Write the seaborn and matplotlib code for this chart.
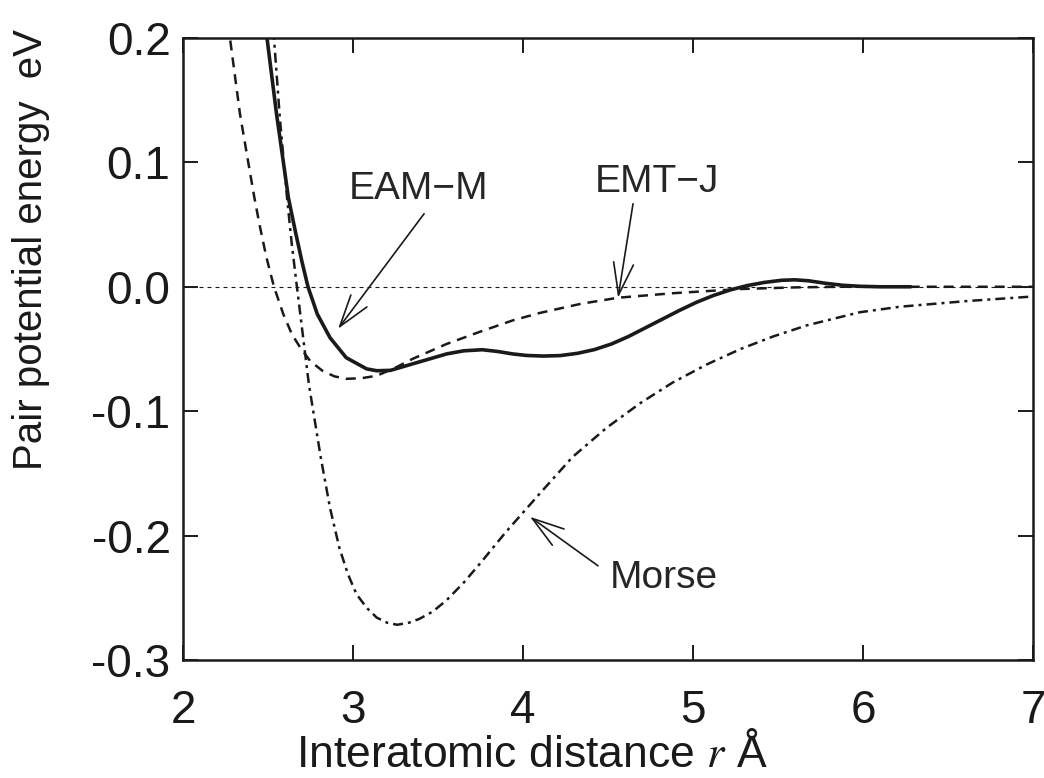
import matplotlib
matplotlib.use("Agg")
import matplotlib.pyplot as plt
import seaborn as sns
import pandas as pd

# values
eam_r = [2.47, 2.494, 2.55, 2.62, 2.66, 2.70, 2.735, 2.79, 2.865, 2.96, 3.08, 3.14, 3.22,
         3.35, 3.45, 3.55, 3.65, 3.76, 3.85, 3.94, 4.02, 4.12, 4.22, 4.32, 4.42, 4.52,
         4.62, 4.72, 4.82, 4.92, 5.02, 5.12, 5.22, 5.32, 5.42, 5.52, 5.60, 5.68, 5.78,
         5.88, 5.98, 6.1, 6.28]
eam_e = [0.225, 0.2, 0.139, 0.0715, 0.045, 0.020, 0.0, -0.022, -0.041, -0.057, -0.066,
         -0.0675, -0.0672, -0.062, -0.058, -0.054, -0.0515, -0.0506, -0.052, -0.054,
         -0.0552, -0.0557, -0.0553, -0.0535, -0.0505, -0.046, -0.040, -0.033, -0.026,
         -0.019, -0.0125, -0.007, -0.0025, 0.001, 0.0035, 0.0052, 0.0056, 0.0048, 0.0028,
         0.0012, 0.0004, 0.0, 0.0]

emt_r = [2.25, 2.276, 2.335, 2.38, 2.42, 2.45, 2.49, 2.535, 2.59, 2.64, 2.69, 2.75, 2.82,
         2.89, 2.96, 3.05, 3.14, 3.25, 3.35, 3.55, 3.75, 3.94, 4.10, 4.34, 4.56, 4.88,
         5.28, 5.60, 5.86, 6.5, 7.0]
emt_e = [0.225, 0.2, 0.139, 0.103, 0.0715, 0.05, 0.024, 0.0, -0.022, -0.038, -0.049,
         -0.060, -0.0675, -0.072, -0.074, -0.0735, -0.0715, -0.065, -0.058, -0.046,
         -0.036, -0.027, -0.021, -0.0137, -0.0088, -0.0052, -0.0018, -0.0005, 0.0, 0.0,
         0.0]

morse_r = [2.52, 2.535, 2.57, 2.612, 2.64, 2.67, 2.74, 2.81, 2.865, 2.92, 2.97, 3.02, 3.08,
           3.14, 3.20, 3.26, 3.33, 3.39, 3.47, 3.55, 3.65, 3.75, 3.90, 4.10, 4.29, 4.49,
           4.69, 4.88, 5.08, 5.28, 5.47, 5.67, 5.98, 6.22, 6.61, 6.98]
morse_e = [0.225, 0.2, 0.135, 0.0715, 0.034, 0.0, -0.078, -0.137, -0.178, -0.210, -0.231,
           -0.247, -0.258, -0.266, -0.270, -0.2717, -0.270, -0.267, -0.261, -0.252, -0.238,
           -0.222, -0.197, -0.166, -0.137, -0.1135, -0.0935, -0.077, -0.0625, -0.050,
           -0.040, -0.031, -0.0205, -0.016, -0.0115, -0.008]

x_ticks = [2, 3, 4, 5, 6, 7]
y_ticks = [-0.3, -0.2, -0.1, 0.0, 0.1, 0.2]
y_tick_labels = ["-0.3", "-0.2", "-0.1", "0.0", "0.1", "0.2"]

sns.set_theme(style="ticks")
plt.rcParams['font.family'] = ['Liberation Sans', 'DejaVu Sans']
plt.rcParams['mathtext.fontset'] = 'stix'
plt.rcParams['axes.unicode_minus'] = False

fig = plt.figure(figsize=(10.44, 7.78), dpi=100)
ax = fig.add_axes([0.1753, 0.1517, 0.8142, 0.7995])

ax.axhline(0, color='k', lw=0.8, linestyle=(0, (3.6, 3.6)))

df_eam = pd.DataFrame({"r": eam_r, "E": eam_e})
df_emt = pd.DataFrame({"r": emt_r, "E": emt_e})
df_morse = pd.DataFrame({"r": morse_r, "E": morse_e})

sns.lineplot(data=df_eam, x="r", y="E", ax=ax, color='k', lw=2.6)
sns.lineplot(data=df_emt, x="r", y="E", ax=ax, color='k', lw=1.8,
             linestyle=(0, (4, 2.8)))
sns.lineplot(data=df_morse, x="r", y="E", ax=ax, color='k', lw=1.8,
             linestyle=(0, (4, 2, 1.2, 2)))

ax.set_xlim(2, 7)
ax.set_ylim(-0.3, 0.2)
ax.set_xticks(x_ticks)
ax.set_yticks(y_ticks)
ax.set_yticklabels(y_tick_labels)

ax.tick_params(direction='in', length=11, width=1.4, top=True, right=True,
               labelsize=33, colors='k')
ax.tick_params(axis='x', pad=21)
ax.tick_params(axis='y', pad=9)
for s in ax.spines.values():
    s.set_linewidth(1.8)
    s.set_color('k')

ax.set_xlabel(r'Interatomic distance $r$ Å', fontsize=32, color='k')
ax.set_ylabel('Pair potential energy  eV', fontsize=29, color='k')
ax.xaxis.set_label_coords(0.41, -0.117)
ax.yaxis.set_label_coords(-0.156, 0.66)

arrow = dict(arrowstyle='->,head_length=1.15,head_width=0.36', color='k', lw=1.2,
             shrinkA=0, shrinkB=0, mutation_scale=20)
ax.annotate("", xy=(2.912, -0.0338), xytext=(3.418, 0.0587), arrowprops=arrow)
ax.annotate("", xy=(4.559, -0.0088), xytext=(4.647, 0.0667), arrowprops=arrow)
ax.annotate("", xy=(4.041, -0.1849), xytext=(4.441, -0.2243), arrowprops=arrow)
ax.text(3.388, 0.0788, "EAM\u2212M", fontsize=28, ha='center', va='center')
ax.text(4.788, 0.0844, "EMT\u2212J", fontsize=28, ha='center', va='center')
ax.text(4.829, -0.234, "Morse", fontsize=28, ha='center', va='center')

fig.savefig("out.png", dpi=100)
